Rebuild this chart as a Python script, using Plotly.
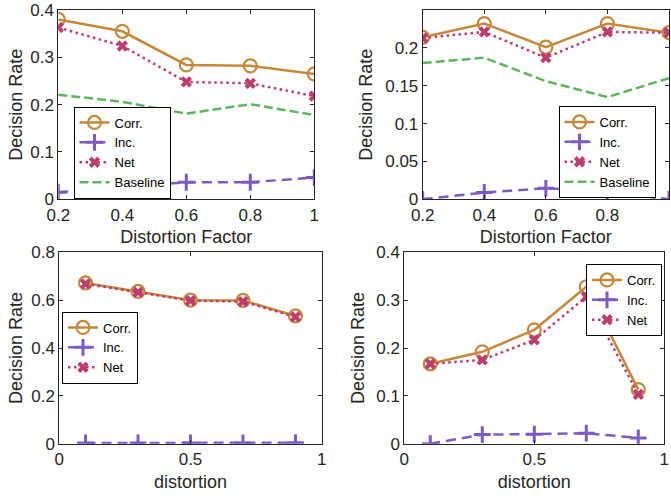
import plotly.graph_objects as go

# ---------------- data ----------------
x_top = [0.2, 0.4, 0.6, 0.8, 1.0]
x_bot = [0.1, 0.3, 0.5, 0.7, 0.9]

tl_corr = [0.380, 0.355, 0.284, 0.282, 0.265]
tl_inc = [0.015, 0.025, 0.036, 0.036, 0.046]
tl_net = [0.363, 0.324, 0.248, 0.245, 0.218]
tl_base = [0.221, 0.206, 0.181, 0.201, 0.178]

tr_corr = [0.214, 0.232, 0.201, 0.232, 0.220]
tr_inc = [0.000, 0.009, 0.0145, 0.010, 0.000]
tr_net = [0.213, 0.221, 0.187, 0.221, 0.220]
tr_base = [0.180, 0.187, 0.156, 0.135, 0.160]

bl_corr = [0.672, 0.637, 0.600, 0.599, 0.534]
bl_inc = [0.003, 0.003, 0.003, 0.003, 0.004]
bl_net = [0.668, 0.633, 0.598, 0.594, 0.530]

br_corr = [0.167, 0.192, 0.238, 0.328, 0.113]
br_inc = [0.000, 0.019, 0.020, 0.022, 0.012]
br_net = [0.167, 0.175, 0.217, 0.307, 0.103]

names = ["Corr.", "Inc.", "Net", "Baseline"]

# ---------------- styles ----------------
C_CORR = "#C6893C"
C_INC = "#7E5BC4"
C_NET = "#BE3C6E"
C_BASE = "#5DB75D"
INK = "#262626"
FONT = "Liberation Sans, Arial, Helvetica, sans-serif"

W, H = 671, 499


def px_x(a, b):
    return [a / W, b / W]


def px_y(top, bottom):
    return [1 - bottom / H, 1 - top / H]


fig = go.Figure()


def add_panel(k, xs, corr, inc, net, base, legend):
    xa = "x" if k == 1 else f"x{k}"
    ya = "y" if k == 1 else f"y{k}"
    fig.add_trace(go.Scatter(
        x=xs, y=corr, name=names[0], mode="lines+markers", xaxis=xa, yaxis=ya,
        legend=legend,
        line=dict(color=C_CORR, width=2.5),
        marker=dict(symbol="circle-open", size=13, color=C_CORR, line=dict(width=2.2, color=C_CORR))))
    fig.add_trace(go.Scatter(
        x=xs, y=inc, name=names[1], mode="lines+markers", xaxis=xa, yaxis=ya,
        legend=legend,
        line=dict(color=C_INC, width=2.5, dash="10px,6px"),
        marker=dict(symbol="cross-thin", size=12, color=C_INC, line=dict(width=3, color=C_INC))))
    fig.add_trace(go.Scatter(
        x=xs, y=net, name=names[2], mode="lines+markers", xaxis=xa, yaxis=ya,
        legend=legend,
        line=dict(color=C_NET, width=2.5, dash="2.5px,3.5px"),
        marker=dict(symbol="x", size=10, color=C_NET, line=dict(width=0))))
    if base is not None:
        fig.add_trace(go.Scatter(
            x=xs, y=base, name=names[3], mode="lines", xaxis=xa, yaxis=ya,
            legend=legend,
            line=dict(color=C_BASE, width=2.5, dash="9px,4px")))


add_panel(1, x_top, tl_corr, tl_inc, tl_net, tl_base, "legend")
add_panel(2, x_top, tr_corr, tr_inc, tr_net, tr_base, "legend2")
add_panel(3, x_bot, bl_corr, bl_inc, bl_net, None, "legend3")
add_panel(4, x_bot, br_corr, br_inc, br_net, None, "legend4")

axis_common = dict(
    showline=True, linecolor=INK, linewidth=1, mirror="ticks",
    ticks="inside", ticklen=4, tickcolor=INK, tickwidth=1,
    showgrid=False, zeroline=False, automargin=False,
    tickfont=dict(family=FONT, size=17, color=INK),
    title_font=dict(family=FONT, size=18, color=INK),
)

fig.update_layout(
    template="none",
    width=W, height=H,
    margin=dict(l=0, r=0, t=0, b=0, pad=0),
    paper_bgcolor="white", plot_bgcolor="white",
    font=dict(family=FONT, color=INK),
    # top-left
    xaxis=dict(domain=px_x(58.3, 314.3), range=[0.2, 1.0], tickvals=[0.2, 0.4, 0.6, 0.8, 1],
               ticktext=["0.2", "0.4", "0.6", "0.8", "1"], anchor="y",
               title=dict(text="Distortion Factor", standoff=6), **axis_common),
    yaxis=dict(domain=px_y(10, 199.3), range=[0, 0.4], dtick=0.1, anchor="x",
               title=dict(text="Decision Rate", standoff=2), **axis_common),
    # top-right
    xaxis2=dict(domain=px_x(422.7, 669), range=[0.2, 1.0], tickvals=[0.2, 0.4, 0.6, 0.8, 1],
                ticktext=["0.2", "0.4", "0.6", "0.8", "1"], anchor="y2",
                title=dict(text="Distortion Factor", standoff=6), **axis_common),
    yaxis2=dict(domain=px_y(10, 199.3), range=[0, 0.25], tickvals=[0, 0.05, 0.1, 0.15, 0.2],
                ticktext=["0", "0.05", "0.1", "0.15", "0.2"], anchor="x2",
                title=dict(text="Decision Rate", standoff=7), **axis_common),
    # bottom-left
    xaxis3=dict(domain=px_x(59.3, 321.7), range=[0, 1], tickvals=[0, 0.5, 1],
                ticktext=["0", "0.5", "1"], anchor="y3",
                title=dict(text="distortion", standoff=7), **axis_common),
    yaxis3=dict(domain=px_y(252.3, 443.7), range=[0, 0.8], dtick=0.2, anchor="x3",
                title=dict(text="Decision Rate", standoff=3), **axis_common),
    # bottom-right
    xaxis4=dict(domain=px_x(404.3, 664.3), range=[0, 1], tickvals=[0, 0.5, 1],
                ticktext=["0", "0.5", "1"], anchor="y4",
                title=dict(text="distortion", standoff=7), **axis_common),
    yaxis4=dict(domain=px_y(252.3, 443.7), range=[0, 0.4], dtick=0.1, anchor="x4",
                title=dict(text="Decision Rate", standoff=6), **axis_common),
)

legend_common = dict(
    bgcolor="white", bordercolor="#000000", borderwidth=1,
    font=dict(family=FONT, size=13, color="#000000"),
    tracegroupgap=0, itemwidth=30, yanchor="middle",
)
fig.update_layout(
    legend=dict(x=122 / W, y=1 - 152.5 / H, xanchor="center", **legend_common),
    legend2=dict(x=607 / W, y=1 - 152 / H, xanchor="center", **legend_common),
    legend3=dict(x=62 / W, y=1 - 347.5 / H, xanchor="left", **legend_common),
    legend4=dict(x=662 / W, y=1 - 300 / H, xanchor="right", **legend_common),
)

fig.write_html("out.html", config={"displayModeBar": False},
               post_script="document.body.style.margin='0px';")
